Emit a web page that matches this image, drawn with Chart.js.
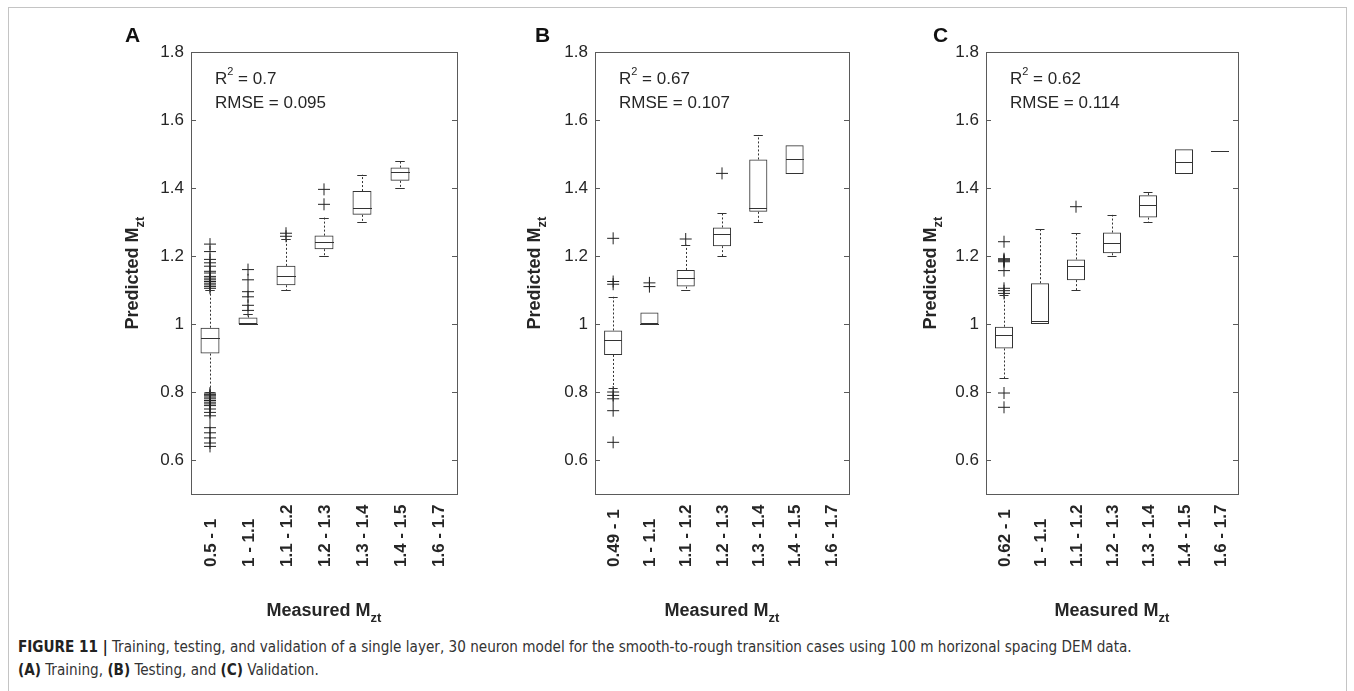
<!DOCTYPE html>
<html>
<head>
<meta charset="utf-8">
<script src="https://cdn.jsdelivr.net/npm/chart.js@4"></script>
<style>
body { margin: 0; background: #fff; width: 1354px; height: 691px; overflow: hidden; position: relative; }
.frame { position: absolute; left: 8px; top: 7px; width: 1337px; height: 700px; border: 1px solid #c4c4c4; }
canvas { position: absolute; top: 0; }
.cap { position: absolute; left: 18px; font-family: "Liberation Sans Narrow", "DejaVu Sans Condensed", "Liberation Sans", sans-serif; font-stretch: condensed; font-size: 16px; line-height: 20px; color: #333; white-space: nowrap; transform: scaleX(0.945); transform-origin: left top; }
.cap b { color: #222; }
</style>
</head>
<body>
<div class="frame"></div>
<canvas id="chartA" width="380" height="630" style="left:100px"></canvas>
<canvas id="chartB" width="380" height="630" style="left:500px"></canvas>
<canvas id="chartC" width="400" height="630" style="left:900px"></canvas>
<div class="cap" style="top:637px"><b>FIGURE 11 |</b> Training, testing, and validation of a single layer, 30 neuron model for the smooth-to-rough transition cases using 100 m horizonal spacing DEM data.</div>
<div class="cap" style="top:660px"><b>(A)</b> Training, <b>(B)</b> Testing, and <b>(C)</b> Validation.</div>

<script>
// tick values shared by the three panels
const yTicks = [0.6, 0.8, 1, 1.2, 1.4, 1.6, 1.8];

// (A) training
const catsA = ['0.5 - 1', '1 - 1.1', '1.1 - 1.2', '1.2 - 1.3', '1.3 - 1.4', '1.4 - 1.5', '1.6 - 1.7'];
const q1A  = [0.913, 1.000, 1.114, 1.220, 1.321, 1.421, null];
const medA = [0.959, 1.000, 1.142, 1.240, 1.342, 1.447, null];
const q3A  = [0.989, 1.019, 1.171, 1.260, 1.391, 1.460, null];
const loA  = [0.800, 1.000, 1.100, 1.200, 1.299, 1.401, null];
const hiA  = [1.100, 1.029, 1.250, 1.313, 1.439, 1.479, null];
const outA = [
    [1.235, 1.213, 1.19, 1.18, 1.17, 1.155, 1.15, 1.14, 1.135, 1.13, 1.125, 1.12, 1.115, 1.11, 1.105,
     0.797, 0.793, 0.789, 0.785, 0.78, 0.775, 0.77, 0.765, 0.76, 0.75, 0.74, 0.73, 0.695, 0.68, 0.665, 0.65, 0.64],
    [1.16, 1.13, 1.095, 1.08, 1.055, 1.04],
    [1.267, 1.258],
    [1.396, 1.352],
    [], [], []
];

// (B) testing
const catsB = ['0.49 - 1', '1 - 1.1', '1.1 - 1.2', '1.2 - 1.3', '1.3 - 1.4', '1.4 - 1.5', '1.6 - 1.7'];
const q1B  = [0.909, 1.000, 1.110, 1.229, 1.330, 1.441, null];
const medB = [0.952, 1.000, 1.136, 1.266, 1.340, 1.484, null];
const q3B  = [0.981, 1.034, 1.159, 1.284, 1.484, 1.526, null];
const loB  = [0.812, 1.000, 1.100, 1.200, 1.299, 1.441, null];
const hiB  = [1.080, 1.034, 1.233, 1.326, 1.556, 1.526, null];
const outB = [
    [1.252, 1.125, 1.117, 0.80, 0.79, 0.78, 0.745, 0.652],
    [1.121, 1.110],
    [1.250],
    [1.443],
    [], [], []
];

// (C) validation
const catsC = ['0.62 - 1', '1 - 1.1', '1.1 - 1.2', '1.2 - 1.3', '1.3 - 1.4', '1.4 - 1.5', '1.6 - 1.7'];
const q1C  = [0.928, 1.000, 1.129, 1.208, 1.313, 1.441, 1.51];
const medC = [0.968, 1.009, 1.171, 1.239, 1.350, 1.477, 1.51];
const q3C  = [0.992, 1.120, 1.190, 1.269, 1.379, 1.514, 1.51];
const loC  = [0.840, 1.000, 1.100, 1.200, 1.299, 1.441, 1.51];
const hiC  = [1.085, 1.278, 1.268, 1.321, 1.389, 1.514, 1.51];
const outC = [
    [1.242, 1.192, 1.189, 1.186, 1.183, 1.157, 1.105, 1.098, 1.09, 0.797, 0.755],
    [],
    [1.345],
    [], [], [], []
];

const notesA = ['0.7', '0.095'];
const notesB = ['0.67', '0.107'];
const notesC = ['0.62', '0.114'];

const FONT = '"Liberation Sans", Arial, sans-serif';
const INK = '#262626';

function crisp(v) { return Math.round(v) + 0.5; }

// text with a small raised or lowered part, drawn left to right from x
function richText(ctx, parts, x, y) {
    parts.forEach(p => {
        ctx.font = p.font;
        ctx.fillText(p.text, x, y + (p.dy || 0));
        x += ctx.measureText(p.text).width;
    });
}
function richWidth(ctx, parts) {
    return parts.reduce((w, p) => { ctx.font = p.font; return w + ctx.measureText(p.text).width; }, 0);
}

const boxExtras = {
    id: 'boxExtras',
    afterDatasetsDraw(chart, args, o) {
        const ctx = chart.ctx;
        const x = chart.scales.x, y = chart.scales.y;
        const a = chart.chartArea;
        const band = x.getPixelForValue(1) - x.getPixelForValue(0);
        const bw = band * 0.5;

        ctx.save();
        ctx.strokeStyle = '#333';
        ctx.lineWidth = 1;
        o.med.forEach((m, i) => {
            if (m == null) return;
            const px = x.getPixelForValue(i);
            const l = Math.round(px - bw / 2), r = Math.round(px + bw / 2);
            const cx = crisp(px);
            // whiskers
            ctx.setLineDash([2, 2]);
            ctx.beginPath();
            if (o.hi[i] > o.q3[i]) { ctx.moveTo(cx, y.getPixelForValue(o.q3[i])); ctx.lineTo(cx, y.getPixelForValue(o.hi[i])); }
            if (o.lo[i] < o.q1[i]) { ctx.moveTo(cx, y.getPixelForValue(o.q1[i])); ctx.lineTo(cx, y.getPixelForValue(o.lo[i])); }
            ctx.stroke();
            ctx.setLineDash([]);
            ctx.beginPath();
            if (o.hi[i] > o.q3[i]) { const yy = crisp(y.getPixelForValue(o.hi[i])); ctx.moveTo(px - bw / 4, yy); ctx.lineTo(px + bw / 4, yy); }
            if (o.lo[i] < o.q1[i]) { const yy = crisp(y.getPixelForValue(o.lo[i])); ctx.moveTo(px - bw / 4, yy); ctx.lineTo(px + bw / 4, yy); }
            // median
            const ym = crisp(y.getPixelForValue(m));
            ctx.moveTo(l, ym); ctx.lineTo(r, ym);
            ctx.stroke();
        });

        // axes box with inward ticks
        ctx.strokeStyle = '#5a5a5a';
        ctx.strokeRect(crisp(a.left), crisp(a.top), Math.round(a.right - a.left), Math.round(a.bottom - a.top));
        ctx.beginPath();
        yTicks.forEach(v => {
            const yy = crisp(y.getPixelForValue(v));
            ctx.moveTo(a.left, yy); ctx.lineTo(a.left + 5, yy);
            ctx.moveTo(a.right - 5, yy); ctx.lineTo(a.right, yy);
        });
        ctx.stroke();

        ctx.fillStyle = INK;
        // category labels, read bottom to top, bottoms aligned
        ctx.font = 'bold 17px ' + FONT;
        ctx.textAlign = 'left';
        ctx.textBaseline = 'middle';
        o.cats.forEach((c, i) => {
            ctx.save();
            ctx.translate(x.getPixelForValue(i) + 1, 567);
            ctx.rotate(-Math.PI / 2);
            ctx.fillText(c, 0, 0);
            ctx.restore();
        });

        // x title
        const xt = [{ text: 'Measured M', font: 'bold 18px ' + FONT }, { text: 'zt', font: 'bold 13px ' + FONT, dy: 7 }];
        ctx.textBaseline = 'middle';
        richText(ctx, xt, (a.left + a.right) / 2 - richWidth(ctx, xt) / 2, 611);

        // y title
        const yt = [{ text: 'Predicted M', font: 'bold 18px ' + FONT }, { text: 'zt', font: 'bold 13px ' + FONT, dy: 7 }];
        ctx.save();
        ctx.translate(o.titleX, (a.top + a.bottom) / 2);
        ctx.rotate(-Math.PI / 2);
        richText(ctx, yt, -richWidth(ctx, yt) / 2, 0);
        ctx.restore();

        // panel letter
        ctx.fillStyle = '#111';
        ctx.font = 'bold 21px ' + FONT;
        ctx.fillText(o.letter, o.letterX, 36);

        // fit notes
        ctx.fillStyle = INK;
        richText(ctx, [
            { text: 'R', font: '17px ' + FONT },
            { text: '2', font: '11px ' + FONT, dy: -7 },
            { text: ' = ' + o.notes[0], font: '17px ' + FONT }
        ], a.left + 24, 79);
        ctx.font = '17px ' + FONT;
        ctx.fillText('RMSE = ' + o.notes[1], a.left + 24, 103);
        ctx.restore();
    }
};

function makeBoxChart(id, cats, q1, med, q3, lo, hi, out, notes, fit) {
    const boxes = q1.map((v, i) => v == null ? null : [v, q3[i]]);
    const points = [];
    out.forEach((arr, i) => arr.forEach(v => points.push({ x: cats[i], y: v })));

    new Chart(document.getElementById(id), {
        type: 'bar',
        data: {
            labels: cats,
            datasets: [
                {
                    data: boxes,
                    backgroundColor: 'rgba(255,255,255,0)',
                    borderColor: '#333',
                    borderWidth: 1,
                    borderSkipped: false,
                    barPercentage: 0.5,
                    categoryPercentage: 1
                },
                {
                    type: 'scatter',
                    data: points,
                    pointStyle: 'cross',
                    radius: 6,
                    borderColor: '#222',
                    borderWidth: 1
                }
            ]
        },
        options: {
            responsive: false,
            animation: false,
            events: [],
            layout: { padding: { top: 52, right: fit.rightPad, left: 0, bottom: 0 } },
            plugins: {
                legend: { display: false },
                tooltip: { enabled: false },
                boxExtras: { cats, q1, med, q3, lo, hi, notes, letter: fit.letter, letterX: fit.letterX, titleX: fit.titleX }
            },
            scales: {
                x: {
                    grid: { display: false },
                    border: { display: false },
                    ticks: { display: false },
                    afterFit: s => { s.height = 630 - 494; }
                },
                y: {
                    min: 0.5,
                    max: 1.8,
                    grid: { display: false, drawTicks: false },
                    border: { display: false },
                    afterBuildTicks: s => { s.ticks = yTicks.map(v => ({ value: v })); },
                    afterFit: s => { s.width = fit.yWidth; },
                    ticks: {
                        padding: 7,
                        color: INK,
                        font: { family: FONT, size: 17 },
                        callback: v => v === 1 ? '1' : v.toFixed(1)
                    }
                }
            }
        },
        plugins: [boxExtras]
    });
}

makeBoxChart('chartA', catsA, q1A, medA, q3A, loA, hiA, outA, notesA,
    { yWidth: 91, rightPad: 23, letter: 'A', letterX: 25, titleX: 33 });
makeBoxChart('chartB', catsB, q1B, medB, q3B, loB, hiB, outB, notesB,
    { yWidth: 95, rightPad: 31, letter: 'B', letterX: 35, titleX: 35 });
makeBoxChart('chartC', catsC, q1C, medC, q3C, loC, hiC, outC, notesC,
    { yWidth: 86, rightPad: 62, letter: 'C', letterX: 33, titleX: 31 });
</script>
</body>
</html>
